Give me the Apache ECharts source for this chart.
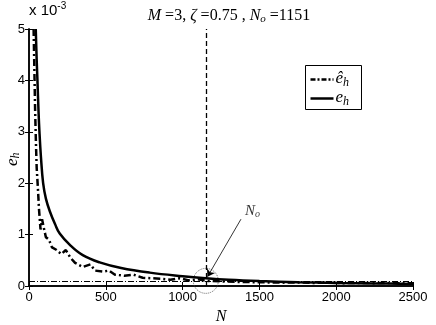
<!DOCTYPE html>
<html>
<head>
<meta charset="utf-8">
<script src="https://cdn.jsdelivr.net/npm/echarts@6/dist/echarts.min.js"></script>
<style>
  html, body { margin: 0; padding: 0; background: #fff; }
  #main { width: 436px; height: 325px; }
</style>
</head>
<body>
<div id="main"></div>
<script>
// values in units of 1e-3
const ehN = [44, 50, 55, 62, 68, 78, 92, 110, 136, 170, 200, 266, 350, 460, 600, 786, 1000, 1151, 1300, 1500, 1750, 2000, 2250, 2500]
const ehVal = [5.0, 4.4, 4.0, 3.4, 3.0, 2.5, 2.0, 1.7, 1.45, 1.2, 1.02, 0.8, 0.6, 0.46, 0.35, 0.26, 0.19, 0.15, 0.12, 0.095, 0.075, 0.06, 0.05, 0.04]

const ehHatN = [30, 35, 40, 45, 50, 58, 65, 75, 85, 95, 110, 130, 150, 180, 210, 240, 270, 300, 350, 400, 430, 480, 520, 560, 620, 680, 740, 800, 860, 920, 980, 1040, 1100, 1160, 1250, 1350, 1450, 1550, 1650, 1750, 1850, 1950, 2050, 2150, 2250, 2350, 2450, 2500]
const ehHatVal = [5.0, 4.2, 3.4, 2.8, 2.3, 1.9, 1.5, 1.1, 1.3, 1.15, 0.95, 0.9, 0.75, 0.7, 0.62, 0.7, 0.55, 0.45, 0.37, 0.42, 0.3, 0.28, 0.3, 0.22, 0.2, 0.22, 0.16, 0.15, 0.14, 0.12, 0.15, 0.11, 0.13, 0.1, 0.09, 0.08, 0.075, 0.07, 0.065, 0.07, 0.06, 0.065, 0.055, 0.06, 0.055, 0.06, 0.05, 0.055]

const xTicks = [0, 500, 1000, 1500, 2000, 2500]
const yTicks = [0, 1, 2, 3, 4, 5]
const No = 1151
const threshold = 0.1
const arrowFrom = [1380, 1.3]
const arrowTo = [1162, 0.18]
const labelAt = [1455, 1.45]

const chart = echarts.init(document.getElementById('main'))

const axisFont = { fontFamily: 'Liberation Sans', fontSize: 13, color: '#000' }
const richMath = (big, small, drop) => ({
  i: { fontFamily: 'Liberation Serif', fontStyle: 'italic', fontSize: big, color: '#000' },
  s: { fontFamily: 'Liberation Serif', fontStyle: 'italic', fontSize: small, color: '#000', padding: [drop, 0, 0, 0] }
})

const option = {
  animation: false,
  grid: { left: 29, right: 23, top: 29, bottom: 39, outerBoundsMode: 'none' },
  title: {
    text: '{i|M} =3, {i|ζ} =0.75 , {i|N}{s|o} =1151',
    left: 224, top: 2, textAlign: 'center',
    textStyle: {
      fontFamily: 'Liberation Serif', fontSize: 16, fontWeight: 'normal', color: '#000',
      rich: {
        i: { fontFamily: 'Liberation Serif', fontStyle: 'italic', fontSize: 16 },
        s: { fontFamily: 'Liberation Serif', fontStyle: 'italic', fontSize: 11, padding: [7, 0, 0, 0] }
      }
    }
  },
  xAxis: [{
    type: 'value', min: 0, max: 2500, interval: 500,
    name: 'N', nameLocation: 'middle', nameGap: 20,
    nameTextStyle: { fontFamily: 'Liberation Serif', fontStyle: 'italic', fontSize: 16, color: '#000' },
    axisLine: { lineStyle: { color: '#000', width: 1.5 } },
    axisTick: { inside: true, length: 4, lineStyle: { color: '#000' } },
    axisLabel: Object.assign({ margin: 5, formatter: v => xTicks.includes(v) ? String(v) : '' }, axisFont),
    splitLine: { show: false }
  }, {
    type: 'value', min: 0, max: 2500, interval: 500, position: 'top',
    axisLine: { lineStyle: { color: '#000', width: 1.5 } },
    axisTick: { inside: true, length: 4, lineStyle: { color: '#000' } },
    axisLabel: { show: false }, splitLine: { show: false }
  }],
  yAxis: [{
    type: 'value', min: 0, max: 5, interval: 1,
    axisLine: { lineStyle: { color: '#000', width: 1.5 } },
    axisTick: { inside: true, length: 4, lineStyle: { color: '#000' } },
    axisLabel: Object.assign({ margin: 4, formatter: v => yTicks.includes(v) ? String(v) : '' }, axisFont),
    splitLine: { show: false }
  }, {
    type: 'value', min: 0, max: 5, interval: 1, position: 'right',
    axisLine: { show: true, lineStyle: { color: '#000', width: 1.5 } },
    axisTick: { show: true, inside: true, length: 4, lineStyle: { color: '#000' } },
    axisLabel: { show: false }, splitLine: { show: false }
  }],
  series: [{
    name: 'eh_hat', type: 'line', symbol: 'none', z: 3,
    data: ehHatN.map((n, i) => [n, ehHatVal[i]]),
    lineStyle: { color: '#000', width: 2.5, type: [7, 3, 2, 3] },
    markLine: {
      silent: true, symbol: 'none', label: { show: false },
      data: [
        [{ coord: [No, 0], lineStyle: { type: [5, 3], width: 1.3, color: '#000' } }, { coord: [No, 5] }],
        [{ coord: [0, threshold], lineStyle: { type: [6, 2, 1, 2], width: 1, color: '#000' } }, { coord: [2500, threshold] }]
      ]
    }
  }, {
    name: 'eh', type: 'line', symbol: 'none', smooth: 0.4, z: 4,
    data: ehN.map((n, i) => [n, ehVal[i]]),
    lineStyle: { color: '#000', width: 2.5 },
    markLine: {
      silent: true, symbol: ['none', 'arrow'], symbolSize: 7, label: { show: false },
      lineStyle: { type: 'solid', width: 0.8, color: '#000' },
      data: [[{ coord: arrowFrom }, { coord: arrowTo }]]
    }
  }, {
    name: 'circle', type: 'scatter', symbol: 'circle', symbolSize: 25, z: 2,
    data: [[No, threshold]],
    itemStyle: { color: 'rgba(0,0,0,0)', borderColor: '#444', borderWidth: 1, borderType: 'dotted' }
  }, {
    name: 'label', type: 'scatter', symbolSize: 0,
    data: [labelAt],
    label: { show: true, position: 'inside', formatter: '{i|N}{s|o}', rich: richMath(15, 10, 6) }
  }],
  graphic: [{
    type: 'text', left: 29, top: 1,
    style: {
      text: 'x 10{s|-3}',
      font: '15px Liberation Sans', fill: '#000',
      rich: { s: { fontSize: 10, fontFamily: 'Liberation Sans', padding: [0, 0, 10, 0] } }
    }
  }, {
    type: 'text', x: 3, y: 166, rotation: Math.PI / 2,
    style: { text: '{i|e}{s|h}', rich: richMath(17, 12, 7) }
  }, {
    type: 'group', left: 305, top: 65,
    children: [
      { type: 'rect', shape: { x: 0, y: 0, width: 56, height: 44 }, style: { fill: '#fff', stroke: '#000', lineWidth: 1 } },
      { type: 'line', shape: { x1: 5, y1: 14, x2: 28, y2: 14 }, style: { stroke: '#000', lineWidth: 2.5, lineDash: [5, 2, 2, 2] } },
      { type: 'line', shape: { x1: 5, y1: 33, x2: 28, y2: 33 }, style: { stroke: '#000', lineWidth: 2.5 } },
      { type: 'text', x: 30, y: 4, style: { text: '{i|ê}{s|h}', rich: richMath(17, 12, 7) } },
      { type: 'text', x: 30, y: 23, style: { text: '{i|e}{s|h}', rich: richMath(17, 12, 7) } }
    ]
  }]
}

chart.setOption(option)
</script>
</body>
</html>
